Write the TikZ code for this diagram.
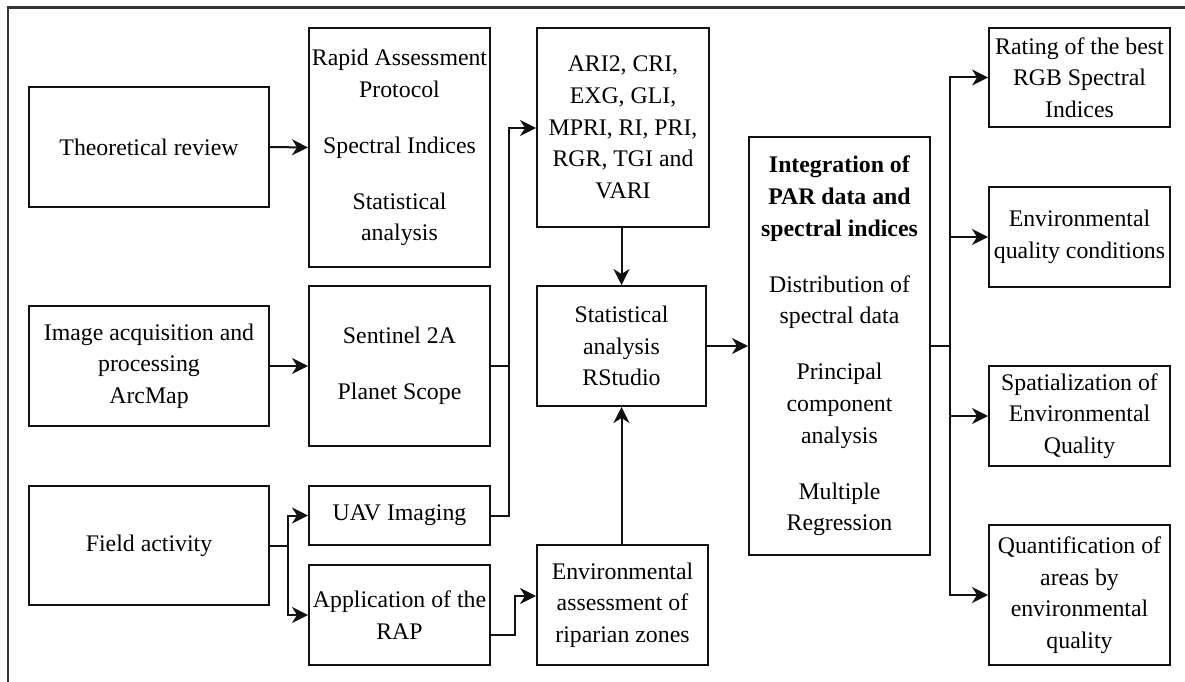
\documentclass[tikz,border=0pt]{standalone}
\usepackage{fontspec}
\setmainfont{Liberation Serif}
\usetikzlibrary{arrows.meta}
\definecolor{boxc}{HTML}{111111}
\definecolor{framec}{HTML}{333333}
\begin{document}
\begin{tikzpicture}[x=1pt,y=-1pt,
 box/.style={draw=boxc, line width=2pt, align=center, inner sep=0pt, font=\fontsize{23.8}{31.6}\selectfont},
 arr/.style={-{Stealth[length=16pt,width=16pt,inset=5pt]}, line width=2pt, draw=boxc},
 ln/.style={line width=2pt, draw=boxc}]
\useasboundingbox (0,0) rectangle (1185,682);
\draw[line width=2.2pt, draw=framec] (8,682) -- (8,7.5) -- (1185,7.5);

% left column
\node[box, minimum width=240pt, minimum height=120pt] (theo) at (149,147) {Theoretical review};
\node[box, minimum width=240pt, minimum height=120pt] (imgacq) at (149,366) {Image acquisition and\\processing\\ArcMap};
\node[box, minimum width=240pt, minimum height=119pt] (field) at (149,545.5) {Field activity};

% second column
\node[box, minimum width=181pt, minimum height=239pt] (rap) at (399.5,147.5) {Rapid Assessment\\Protocol\\[24.5pt]Spectral Indices\\[24.5pt]Statistical\\analysis};
\node[box, minimum width=181pt, minimum height=160pt] (sent) at (399.5,366) {Sentinel 2A\\[24.5pt]Planet Scope};
\node[box, minimum width=181pt, minimum height=59pt] (uav) at (399.5,515.5) {UAV Imaging};
\node[box, minimum width=181pt, minimum height=100pt] (app) at (399.5,615) {Application of the\\RAP};

% third column
\node[box, minimum width=172pt, minimum height=199pt] (ari) at (623,127.5) {ARI2, CRI,\\EXG, GLI,\\MPRI, RI, PRI,\\RGR, TGI and\\VARI};
\node[box, minimum width=169pt, minimum height=120pt] (stat) at (621.5,346) {Statistical\\analysis\\RStudio};
\node[box, minimum width=171pt, minimum height=120pt] (envass) at (622.5,605) {Environmental\\assessment of\\riparian zones};

% fourth column
\node[box, minimum width=181pt, minimum height=418pt] (integ) at (839.5,346) {\textbf{Integration of}\\\textbf{PAR data and}\\\textbf{spectral indices}\\[24.5pt]Distribution of\\spectral data\\[24.5pt]Principal\\component\\analysis\\[24.5pt]Multiple\\Regression};

% right column
\node[box, minimum width=181pt, minimum height=99pt] (rating) at (1079.5,77.5) {Rating of the best\\RGB Spectral\\Indices};
\node[box, minimum width=181pt, minimum height=100pt] (envq) at (1079.5,237) {Environmental\\quality conditions};
\node[box, minimum width=181pt, minimum height=100pt] (spat) at (1079.5,416) {Spatialization of\\Environmental\\Quality};
\node[box, minimum width=181pt, minimum height=140pt] (quant) at (1079.5,595) {Quantification of\\areas by\\environmental\\quality};

% junctions
\coordinate (j1) at (509,128);
\coordinate (j2) at (288,545.5);
\coordinate (j4) at (950,346);

% connectors
\draw[arr] (theo.east) -- (rap.west);
\draw[arr] (imgacq.east) -- (sent.west);
\draw[ln] (sent.east) -- (sent.east -| j1);
\draw[arr] (uav.east) -| (j1) -- (j1 -| ari.west);
\draw[ln] (field.east) -- (j2);
\draw[arr] (j2) |- (uav.west);
\draw[arr] (j2) |- (app.west);
\draw[arr] ([yshift=-20pt]app.east) -- ++(24,0) |- ([yshift=9pt]envass.west);
\draw[arr] (ari.south -| stat.north) -- (stat.north);
\draw[arr] (envass.north -| stat.south) -- (stat.south);
\draw[arr] (stat.east) -- (integ.west);
\draw[ln] (integ.east) -- (j4);
\draw[arr] (j4) |- (rating.west);
\draw[arr] (j4) |- (envq.west);
\draw[arr] (j4) |- (spat.west);
\draw[arr] (j4) |- (quant.west);
\end{tikzpicture}
\end{document}
